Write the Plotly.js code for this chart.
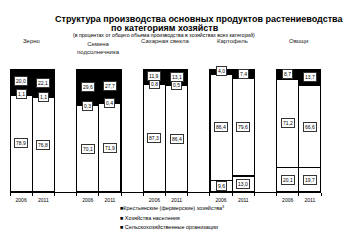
<!DOCTYPE html>
<html><head><meta charset="utf-8">
<script src="https://cdn.plot.ly/plotly-3.0.1.min.js"></script>
<style>html,body{margin:0;padding:0;background:#fff;}#c{width:346px;height:242px;}</style>
</head><body><div id="c"></div>
<script>
const groups = ['Зерно', 'Семена<br>подсолнечника', 'Сахарная свекла', 'Картофель', 'Овощи'];
const years = ['2006', '2011'];
// values per bar: [group0-2006, group0-2011, group1-2006, ...]
const orgs = [78.9, 76.8, 70.1, 71.9, 87.3, 86.4, 9.6, 13.0, 20.1, 19.7];
const households = [1.1, 1.1, 0.3, 0.4, 0.8, 0.5, 86.4, 79.6, 71.2, 66.6];
const farms = [20.0, 22.1, 29.6, 27.7, 11.9, 13.1, 4.0, 7.4, 8.7, 13.7];
const seriesNames = ['Крестьянские (фермерские) хозяйства<sup>3</sup>', 'Хозяйства населения', 'Сельскохозяйственные организации'];

const xs = [], tickvals = [], ticktext = [];
groups.forEach((g, gi) => years.forEach((y, yi) => {
  xs.push(gi * 3 + yi); tickvals.push(gi * 3 + yi); ticktext.push(y);
}));

const L = 10, R = 321, T = 69, B = 192;
const px2x = p => (p - L) / (R - L);
const py2y = p => (B - p) / (B - T);
const FONT = 'Liberation Sans, Arial, sans-serif';
const line = {color: '#000', width: 1.2};

const traces = [
  {type: 'bar', x: xs, y: orgs, marker: {color: '#fff', line: line}, width: 1, hoverinfo: 'none'},
  {type: 'bar', x: xs, y: households, marker: {color: '#fff', line: line}, width: 1, hoverinfo: 'none'},
  {type: 'bar', x: xs, y: farms, marker: {color: '#000', line: line}, width: 1, hoverinfo: 'none'}
];

const fmt = v => v.toFixed(1).replace('.', ',');
const ann = [];
[orgs, households, farms].forEach((arr, si) => {
  arr.forEach((v, i) => {
    let base = 0;
    for (let k = 0; k < si; k++) base += [orgs, households, farms][k][i];
    ann.push({x: xs[i], y: base + v / 2, xref: 'x', yref: 'y', text: fmt(v), showarrow: false,
      font: {family: FONT, size: 5, color: '#000'}, bgcolor: '#fff', bordercolor: '#333',
      borderwidth: 1, borderpad: 1});
  });
});
groups.forEach((g, gi) => {
  const two = g.indexOf('<br>') >= 0;
  ann.push({x: gi * 3 + 0.5, xref: 'x', y: py2y(two ? 47.5 : 41.5), yref: 'paper', text: g,
    showarrow: false, font: {family: FONT, size: 6, color: '#222'}, yanchor: 'middle'});
});
ann.push({x: px2x(199), y: py2y(12), xref: 'paper', yref: 'paper', showarrow: false,
  text: '<b>Структура производства основных продуктов растениеводства</b>',
  font: {family: FONT, size: 9, color: '#000'}});
ann.push({x: px2x(165), y: py2y(20.5), xref: 'paper', yref: 'paper', showarrow: false,
  text: '<b>по категориям хозяйств</b>', font: {family: FONT, size: 9, color: '#000'}});
ann.push({x: px2x(164), y: py2y(29.5), xref: 'paper', yref: 'paper', showarrow: false,
  text: '(в процентах от общего объема производства в хозяйствах всех категорий)',
  font: {family: FONT, size: 5.2, color: '#000'}});
const legY = [213, 222.5, 232];
seriesNames.forEach((n, i) => {
  ann.push({x: px2x(118), y: py2y(legY[i]), xref: 'paper', yref: 'paper', xanchor: 'left',
    showarrow: false, text: (i === 0 ? '■' : '■ ') + n, font: {family: FONT, size: 5.5, color: '#000'}});
});

const layout = {
  width: 346, height: 242, margin: {l: L, r: 346 - R, t: T, b: 242 - B},
  paper_bgcolor: '#fff', plot_bgcolor: '#fff', barmode: 'stack', bargap: 0, showlegend: false,
  xaxis: {range: [-0.5, 13.5], tickmode: 'array', tickvals: tickvals, ticktext: ticktext,
    showline: true, linecolor: '#000', linewidth: 1, ticks: '', showgrid: false, zeroline: false,
    tickfont: {family: FONT, size: 5, color: '#000'}, ticklabelstandoff: 3,
    minor: {tick0: -0.5, dtick: 1, ticks: 'outside', ticklen: 3, tickcolor: '#000', tickwidth: 1, showgrid: false}},
  yaxis: {range: [0, 100], visible: false, fixedrange: true},
  annotations: ann
};
Plotly.newPlot('c', traces, layout, {staticPlot: true});
</script></body></html>
